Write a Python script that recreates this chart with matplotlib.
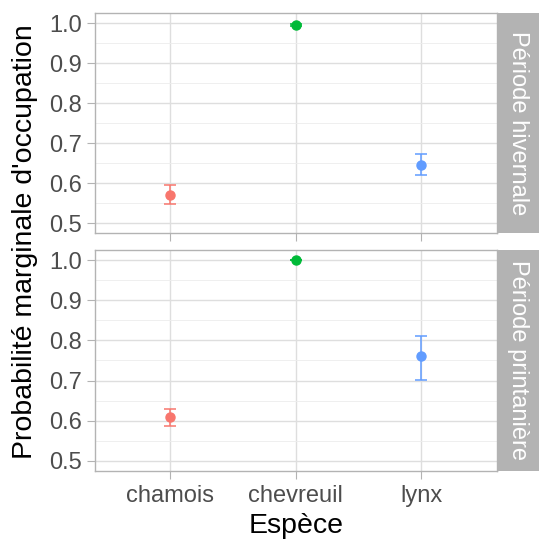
import numpy as np
import matplotlib
matplotlib.use("Agg")
import matplotlib.pyplot as plt
from matplotlib.ticker import MultipleLocator

plt.rcParams['font.family'] = ['Liberation Sans', 'DejaVu Sans']

species = ["chamois", "chevreuil", "lynx"]
colors = ["#F8766D", "#00BA38", "#619CFF"]
periods = ["Période hivernale", "Période printanière"]

# estimates and 95% limits
winter_est = [0.572, 0.997, 0.647]
winter_low = [0.548, 0.994, 0.620]
winter_high = [0.595, 0.999, 0.673]

spring_est = [0.609, 0.9995, 0.761]
spring_low = [0.587, 0.999, 0.702]
spring_high = [0.630, 1.000, 0.812]

yticks = [0.5, 0.6, 0.7, 0.8, 0.9, 1.0]
ytick_labels = ["0.5", "0.6", "0.7", "0.8", "0.9", "1.0"]

W, H = 539, 540
fig = plt.figure(figsize=(W / 100, H / 100), dpi=100)

border = "#B3B3B3"
grid = "#DEDEDE"
text_grey = "#4D4D4D"

left, right = 94.7 / W, 496.7 / W
strip_right = 538.5 / W
panels = [(13.3, 233.5), (250.0, 471.0)]
data = [(winter_est, winter_low, winter_high),
        (spring_est, spring_low, spring_high)]

for i, ((top_px, bot_px), (est, low, high)) in enumerate(zip(panels, data)):
    b = 1 - bot_px / H
    h = (bot_px - top_px) / H
    ax = fig.add_axes([left, b, right - left, h])
    x = np.arange(len(species))
    for j in range(len(species)):
        ax.errorbar(x[j], est[j],
                    yerr=[[est[j] - low[j]], [high[j] - est[j]]],
                    fmt="o", color=colors[j], markersize=6.5,
                    elinewidth=1.1, capsize=4.5, capthick=1.1, zorder=3)
    ax.set_xlim(-0.6, 2.6)
    ax.set_ylim(0.475, 1.025)
    ax.set_yticks(yticks)
    ax.set_yticklabels(ytick_labels)
    ax.yaxis.set_minor_locator(MultipleLocator(0.05))
    ax.set_xticks(x)
    if i == 1:
        ax.set_xticklabels(species)
    else:
        ax.set_xticklabels([])
    ax.grid(True, which="major", color=grid, linewidth=1.0, zorder=0)
    ax.grid(True, which="minor", axis="y", color="#EDEDED", linewidth=0.6, zorder=0)
    ax.set_axisbelow(True)
    for s in ax.spines.values():
        s.set_color(border)
        s.set_linewidth(1.0)
    ax.tick_params(axis="both", which="major", length=5.8, width=0.8,
                   color=border, labelcolor=text_grey, labelsize=17, pad=3.5)
    ax.tick_params(axis="both", which="minor", length=0)
    if i == 1:
        ax.tick_params(axis="x", pad=4.5)

    # facet strip
    sax = fig.add_axes([right, b, strip_right - right, h])
    sax.set_facecolor(border)
    sax.set_xticks([])
    sax.set_yticks([])
    for s in sax.spines.values():
        s.set_visible(False)
    sax.text(0.5, 0.5, periods[i], rotation=-90, ha="center", va="center",
             color="white", fontsize=17, transform=sax.transAxes)

fig.text(25 / W, 1 - 242 / H, "Probabilité marginale d'occupation",
         rotation=90, ha="center", va="center", fontsize=20.5, color="black")
fig.text((left + right) / 2, 1 - 526 / H, "Espèce",
         ha="center", va="center", fontsize=20.5, color="black")

fig.savefig("out.png", dpi=100)
